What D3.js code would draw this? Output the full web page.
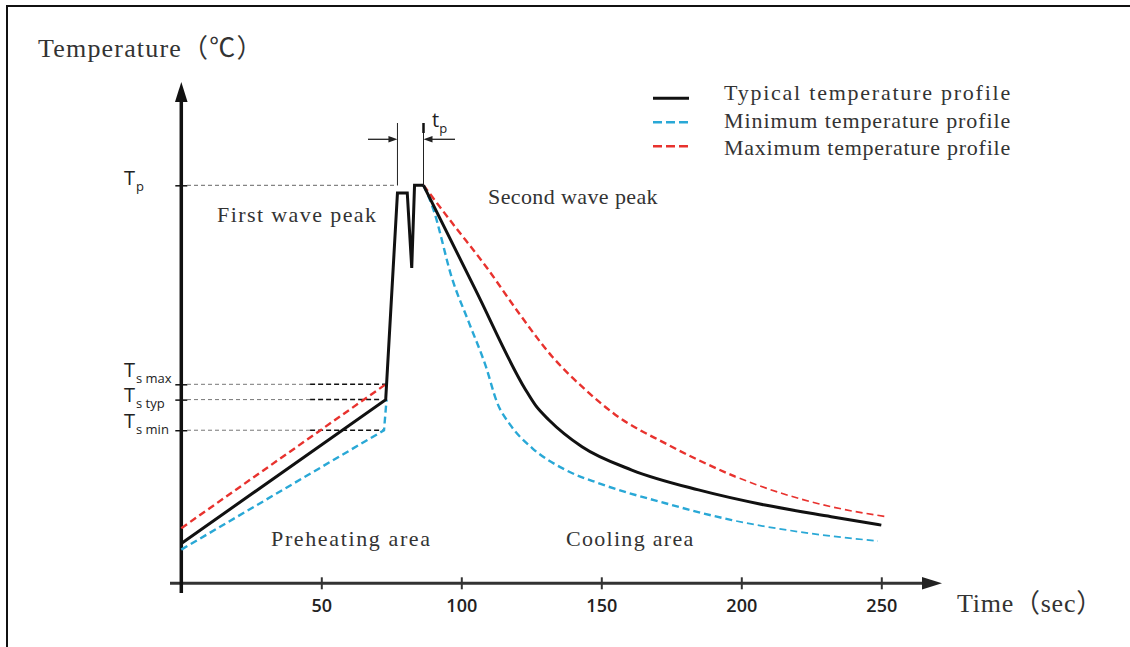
<!DOCTYPE html>
<html>
<head>
<meta charset="utf-8">
<script src="https://cdn.jsdelivr.net/npm/d3@7"></script>
<style>
  body { margin: 0; background: #fff; }
  svg { display: block; }
</style>
</head>
<body>
<svg width="1130" height="647"></svg>
<script>
// Time ticks (sec)
const timeTicks = [50, 100, 150, 200, 250]

// Reference temperature levels: Tp, Ts max, Ts typ, Ts min
const levelSubs = ['p', 's max', 's typ', 's min']
const levelValues = [260, 130, 120, 100]

// Series names for the legend
const seriesNames = [
  'Typical temperature profile',
  'Minimum temperature profile',
  'Maximum temperature profile'
]

// [time, temperature] points
const typicalRise = [[0, 26], [73, 120], [77.2, 255], [80.7, 255], [82.3, 206], [83.3, 260], [86.5, 260]]
const typicalFall = [[86.5, 260], [105, 192], [123, 126.3], [126.6, 116], [131.3, 106.7], [143.1, 89.2],
  [160.9, 74], [184.7, 61], [208.5, 51.1], [232.1, 43.5], [250, 38]]

const minimumRise = [[0, 22], [72.4, 100], [73.3, 120]]
const minimumFall = [[86.5, 260], [89.7, 246], [96.9, 198], [102.8, 170], [108.8, 141.5], [112.8, 118],
  [117.5, 103.5], [125.4, 88.2], [137.3, 74], [149.2, 65.3], [172.9, 52.3], [196.6, 41.3],
  [220.3, 33.7], [248.8, 27.6]]

const maximumRise = [[0, 36], [73, 130]]
const maximumFall = [[86.5, 260], [96.9, 235], [108.8, 207], [120.6, 176.4], [132.5, 148], [144.4, 126.3],
  [155.1, 110], [172.9, 91.4], [184.7, 80.5], [196.6, 70.7], [214.4, 58.8],
  [232.2, 50], [251.8, 43.5]]

// Peak window (tp) start / end times
const peakWindow = [77.2, 86.5]

const black = '#111',
  blue = '#29a8d6',
  red = '#e8322e',
  textColor = '#333'

const serifFont = '"Liberation Serif", "Noto Sans CJK SC", serif'
const sansFont = '"Open Sans", sans-serif'

const svg = d3.select('svg')

const xScale = d3.scaleLinear().domain([0, 250]).range([181.3, 881.3])
const yScale = d3.scaleLinear().domain([0, 260]).range([583.3, 185.3])

// Monospaced-looking label: each half-width char takes `cell` px, full-width ones 2 cells
const monoText = (str, x, y, size, cell) => {
  const cells = Array.from(str).reduce((s, c) => s + (c.charCodeAt(0) > 0x2000 ? 2 : 1), 0)
  return svg.append('text')
    .attr('x', x).attr('y', y)
    .attr('fill', textColor)
    .attr('textLength', cells * cell)
    .attr('lengthAdjust', 'spacing')
    .style('font-family', serifFont)
    .style('font-size', size + 'px')
    .text(str)
}

// Clip regions: dashed tails get thinner after ~198 sec
const tailStart = xScale(198)
const defs = svg.append('defs')
defs.append('clipPath').attr('id', 'clipHead')
  .append('rect').attr('x', 0).attr('y', 0).attr('width', tailStart).attr('height', 647)
defs.append('clipPath').attr('id', 'clipTail')
  .append('rect').attr('x', tailStart).attr('y', 0).attr('width', 1130 - tailStart).attr('height', 647)

// Frame
svg.append('path')
  .attr('d', 'M7,647 V6 H1130')
  .attr('fill', 'none')
  .attr('stroke', '#111')
  .attr('stroke-width', 2)

// X axis
let xAxis = d3.axisBottom(xScale).tickValues(timeTicks).tickSize(6)
let xAxisG = svg.append('g')
  .attr('id', 'xAxisG')
  .attr('transform', 'translate(0, 583.3)')
  .call(xAxis)
xAxisG.select('.domain').remove()
xAxisG.selectAll('.tick line')
  .attr('y1', -6).attr('y2', 6)
  .attr('stroke', '#333').attr('stroke-width', 2)
xAxisG.selectAll('.tick text')
  .attr('y', 28.7).attr('dy', 0)
  .attr('fill', '#222')
  .style('font-family', sansFont)
  .style('font-size', '18px')
  .style('font-weight', 600)

svg.append('line')
  .attr('x1', 170).attr('x2', 925)
  .attr('y1', 583.3).attr('y2', 583.3)
  .attr('stroke', '#333').attr('stroke-width', 3)
svg.append('path')
  .attr('d', 'M942,583.3 L922,577 L922,589.6 Z')
  .attr('fill', '#222')

// Y axis
let yAxis = d3.axisLeft(yScale).tickValues(levelValues).tickSize(5).tickFormat('')
let yAxisG = svg.append('g')
  .attr('id', 'yAxisG')
  .attr('transform', 'translate(181.3, 0)')
  .call(yAxis)
yAxisG.select('.domain').remove()
yAxisG.selectAll('.tick line')
  .attr('x1', -6).attr('x2', 6)
  .attr('stroke', black).attr('stroke-width', 1.5)

svg.append('line')
  .attr('x1', 181.3).attr('x2', 181.3)
  .attr('y1', 593).attr('y2', 100)
  .attr('stroke', black).attr('stroke-width', 3.5)
svg.append('path')
  .attr('d', 'M181.3,82 L175,102 L187.6,102 Z')
  .attr('fill', black)

// Level labels T_p, T_s max ...
const labelShift = [[0, 6], [-7, -1], [2, 8], [-2, 4]]
levelValues.forEach((v, i) => {
  const t = svg.append('text')
    .attr('x', 124)
    .attr('y', yScale(v) + labelShift[i][0])
    .attr('fill', '#222')
    .style('font-family', sansFont)
    .style('font-size', '20px')
  t.append('tspan').text('T')
  t.append('tspan')
    .attr('dx', 1)
    .attr('dy', labelShift[i][1] - labelShift[i][0])
    .style('font-size', '13px')
    .text(levelSubs[i])
})

// Reference dashed lines
svg.append('line')
  .attr('x1', 187).attr('x2', xScale(peakWindow[0]))
  .attr('y1', yScale(levelValues[0])).attr('y2', yScale(levelValues[0]))
  .attr('stroke', '#666').attr('stroke-width', 1)
  .attr('stroke-dasharray', '4,3')

const levelLineEnds = [null, 73, 71, 72]
const dashSplit = 46
levelValues.slice(1).forEach((v, i) => {
  svg.append('line')
    .attr('x1', 187).attr('x2', xScale(dashSplit))
    .attr('y1', yScale(v)).attr('y2', yScale(v))
    .attr('stroke', '#777').attr('stroke-width', 1)
    .attr('stroke-dasharray', '4,3')
  svg.append('line')
    .attr('x1', xScale(dashSplit)).attr('x2', xScale(levelLineEnds[i + 1]))
    .attr('y1', yScale(v)).attr('y2', yScale(v))
    .attr('stroke', black).attr('stroke-width', 1.5)
    .attr('stroke-dasharray', '5,3')
})

// Peak window marks
const xa = xScale(peakWindow[0]),
  xb = xScale(peakWindow[1])
peakWindow.forEach((p) => {
  svg.append('line')
    .attr('x1', xScale(p)).attr('x2', xScale(p))
    .attr('y1', 123).attr('y2', yScale(260))
    .attr('stroke', '#222').attr('stroke-width', 1)
})
svg.append('line')
  .attr('x1', 368).attr('x2', xa - 6)
  .attr('y1', 139.3).attr('y2', 139.3)
  .attr('stroke', '#222').attr('stroke-width', 1.3)
svg.append('path')
  .attr('d', `M${xa},139.3 L${xa - 9},136 L${xa - 9},142.6 Z`)
  .attr('fill', '#222')
svg.append('line')
  .attr('x1', 455).attr('x2', xb + 6)
  .attr('y1', 139.3).attr('y2', 139.3)
  .attr('stroke', '#222').attr('stroke-width', 1.3)
svg.append('path')
  .attr('d', `M${xb},139.3 L${xb + 9},136 L${xb + 9},142.6 Z`)
  .attr('fill', '#222')
svg.append('line')
  .attr('x1', xb).attr('x2', xb)
  .attr('y1', 123).attr('y2', 133)
  .attr('stroke', '#111').attr('stroke-width', 2.5)

const tp = svg.append('text')
  .attr('x', 432)
  .attr('y', 127)
  .attr('fill', '#222')
  .style('font-family', sansFont)
  .style('font-size', '20px')
tp.append('tspan').text('t')
tp.append('tspan').attr('dy', 6).style('font-size', '13px').text('p')

// Curves
const straight = d3.line()
  .x((d) => xScale(d[0]))
  .y((d) => yScale(d[1]))
const smooth = d3.line()
  .x((d) => xScale(d[0]))
  .y((d) => yScale(d[1]))
  .curve(d3.curveMonotoneX)

const drawSeries = (rise, fall, color, width, dash, tailWidth) => {
  svg.append('path')
    .attr('d', straight(rise))
    .attr('fill', 'none')
    .attr('stroke', color)
    .attr('stroke-width', width)
    .attr('stroke-dasharray', dash)
  if (tailWidth) {
    svg.append('path')
      .attr('d', smooth(fall))
      .attr('clip-path', 'url(#clipHead)')
      .attr('fill', 'none')
      .attr('stroke', color)
      .attr('stroke-width', width)
      .attr('stroke-dasharray', dash)
    svg.append('path')
      .attr('d', smooth(fall))
      .attr('clip-path', 'url(#clipTail)')
      .attr('fill', 'none')
      .attr('stroke', color)
      .attr('stroke-width', tailWidth)
      .attr('stroke-dasharray', dash)
  } else {
    svg.append('path')
      .attr('d', smooth(fall))
      .attr('fill', 'none')
      .attr('stroke', color)
      .attr('stroke-width', width)
      .attr('stroke-dasharray', dash)
  }
}

drawSeries(maximumRise, maximumFall, red, 2.4, '7,4', 1.6)
drawSeries(minimumRise, minimumFall, blue, 2.4, '7,4', 1.7)
drawSeries(typicalRise, typicalFall, black, 3, null, null)

// Legend
const legendColors = [black, blue, red]
const legendDash = [null, '9,4', '9,4']
seriesNames.forEach((name, i) => {
  const ly = 98.3 + i * 24
  svg.append('line')
    .attr('x1', 653).attr('x2', 689)
    .attr('y1', ly).attr('y2', ly)
    .attr('stroke', legendColors[i])
    .attr('stroke-width', i === 0 ? 3 : 2.4)
    .attr('stroke-dasharray', legendDash[i])
  monoText(name, 724, 100 + i * 27.5, 22, 10.6)
})

// Area labels
const areaText = [
  ['First wave peak', 217, 222],
  ['Second wave peak', 488, 204],
  ['Preheating area', 271, 546],
  ['Cooling area', 566, 546]
]
areaText.forEach((a) => monoText(a[0], a[1], a[2], 22, 10.6))

// Axis titles
monoText('Temperature（℃）', 38, 57, 26, 13.2)
monoText('Time（sec）', 957, 612, 26, 13.2)
</script>
</body>
</html>
